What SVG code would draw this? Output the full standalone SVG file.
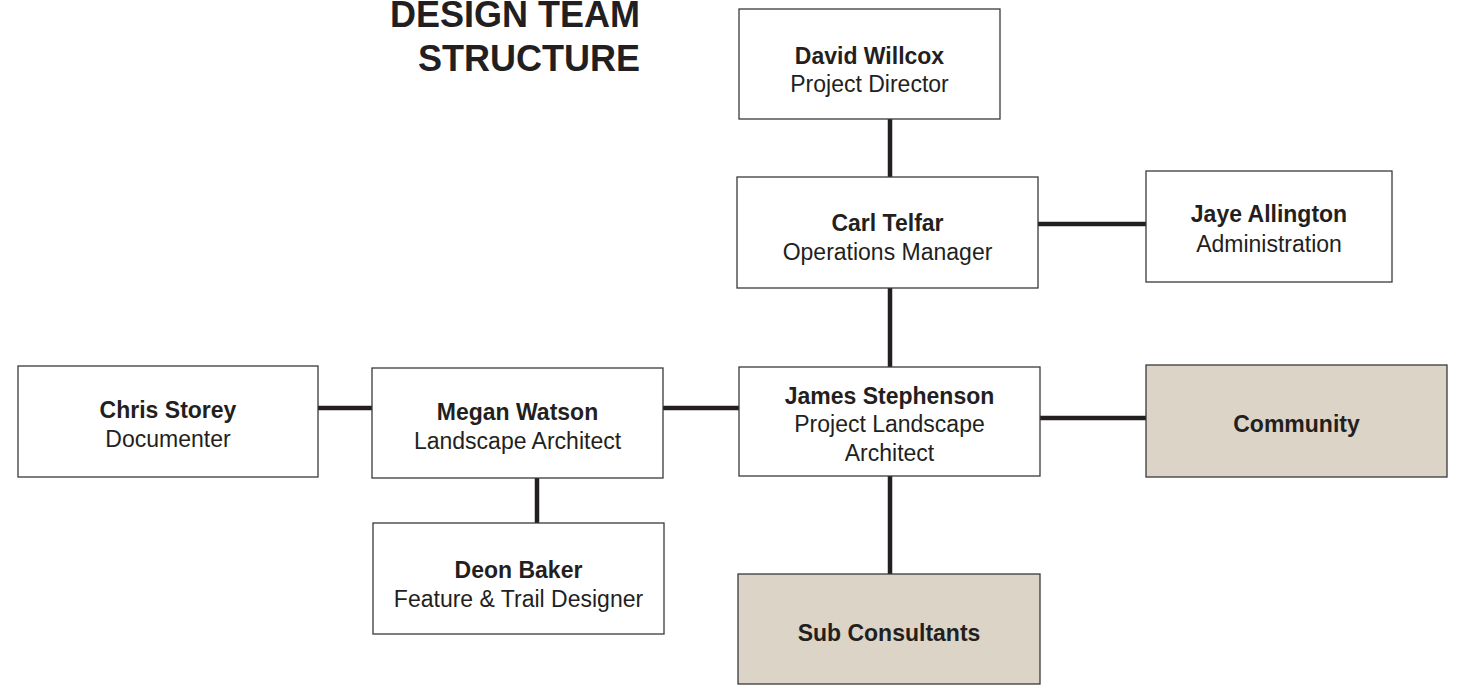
<svg xmlns="http://www.w3.org/2000/svg" width="1457" height="686" viewBox="0 0 1457 686">
<style>
.box{fill:#ffffff;stroke:#3a3a3a;stroke-width:1.3}
.tan{fill:#dcd4c7;stroke:#3a3a3a;stroke-width:1.3}
.b{font-family:"Liberation Sans",Arial,sans-serif;font-weight:bold;font-size:23px;fill:#231f20;text-anchor:middle}
.r{font-family:"Liberation Sans",Arial,sans-serif;font-size:23px;fill:#231f20;text-anchor:middle}
.title{font-family:"Liberation Sans",Arial,sans-serif;font-weight:bold;font-size:36px;fill:#231f20;text-anchor:end}
.con{stroke:#231f20;stroke-width:4.5;fill:none}
</style>
<rect width="1457" height="686" fill="#ffffff"/>
<g id="title">
<text class="title" x="640" y="27">DESIGN TEAM</text>
<text class="title" x="640" y="71">STRUCTURE</text>
</g>
<g id="connectors">
<line class="con" x1="890" y1="119" x2="890" y2="177"/>
<line class="con" x1="890" y1="288" x2="890" y2="367"/>
<line class="con" x1="1038" y1="224" x2="1146" y2="224"/>
<line class="con" x1="318" y1="408" x2="372" y2="408"/>
<line class="con" x1="663" y1="408" x2="739" y2="408"/>
<line class="con" x1="1040" y1="418" x2="1146" y2="418"/>
<line class="con" x1="537" y1="478" x2="537" y2="523"/>
<line class="con" x1="890" y1="476" x2="890" y2="574"/>
</g>
<g id="david">
<rect class="box" x="739" y="9" width="261" height="110"/>
<text class="b" x="869.5" y="64">David Willcox</text>
<text class="r" x="869.5" y="92">Project Director</text>
</g>
<g id="carl">
<rect class="box" x="737" y="177" width="301" height="111"/>
<text class="b" x="887.5" y="231">Carl Telfar</text>
<text class="r" x="887.5" y="260">Operations Manager</text>
</g>
<g id="jaye">
<rect class="box" x="1146" y="171" width="246" height="111"/>
<text class="b" x="1269" y="222">Jaye Allington</text>
<text class="r" x="1269" y="252">Administration</text>
</g>
<g id="james">
<rect class="box" x="739" y="367" width="301" height="109"/>
<text class="b" x="889.5" y="404">James Stephenson</text>
<text class="r" x="889.5" y="432">Project Landscape</text>
<text class="r" x="889.5" y="461">Architect</text>
</g>
<g id="community">
<rect class="tan" x="1146" y="365" width="301" height="112"/>
<text class="b" x="1296.5" y="432">Community</text>
</g>
<g id="chris">
<rect class="box" x="18" y="366" width="300" height="111"/>
<text class="b" x="168" y="418">Chris Storey</text>
<text class="r" x="168" y="447">Documenter</text>
</g>
<g id="megan">
<rect class="box" x="372" y="368" width="291" height="110"/>
<text class="b" x="517.5" y="420">Megan Watson</text>
<text class="r" x="517.5" y="449">Landscape Architect</text>
</g>
<g id="deon">
<rect class="box" x="373" y="523" width="291" height="111"/>
<text class="b" x="518.5" y="578">Deon Baker</text>
<text class="r" x="518.5" y="607">Feature &amp; Trail Designer</text>
</g>
<g id="sub">
<rect class="tan" x="738" y="574" width="302" height="110"/>
<text class="b" x="889" y="641">Sub Consultants</text>
</g>
</svg>
